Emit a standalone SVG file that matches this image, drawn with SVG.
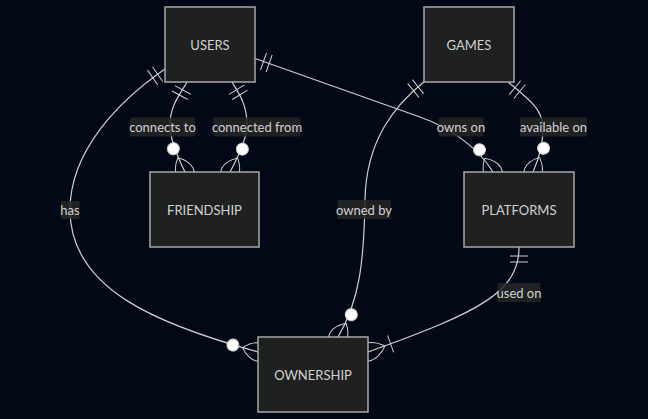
<svg xmlns="http://www.w3.org/2000/svg" width="648" height="419" viewBox="0 0 648 419">
<style>
.bg{fill:#030816}
.ent rect{fill:#1f2020;stroke:#a8a8a8;stroke-width:1.5}
.ent text{fill:#d2d2d2;font-family:Lato,"DejaVu Sans",sans-serif;font-size:13px;text-anchor:middle;dominant-baseline:central}
.edge{fill:none;stroke:#cfcfcf;stroke-width:1.2}
.mk{fill:none;stroke:#cfcfcf;stroke-width:1}
.mkc{fill:#ffffff;stroke:#cfcfcf;stroke-width:1}
.lbl rect{fill:#262626;opacity:0.85}
.lbl text{fill:#d2d2d2;font-family:Lato,"DejaVu Sans",sans-serif;font-size:13px;text-anchor:middle;dominant-baseline:central}
</style>
<defs>
<marker id="oneStart" markerUnits="userSpaceOnUse" refX="0" refY="9" markerWidth="18" markerHeight="18" orient="auto" overflow="visible">
<path class="mk" d="M9,0 L9,18 M15,0 L15,18"/>
</marker>
<marker id="zeroManyEnd" markerUnits="userSpaceOnUse" refX="39" refY="18" markerWidth="57" markerHeight="36" orient="auto" overflow="visible">
<circle class="mkc" cx="13" cy="18" r="6"/>
<path class="mk" d="M23,18 Q39,0 55,18 Q39,36 23,18"/>
</marker>
<marker id="oneManyEnd" markerUnits="userSpaceOnUse" refX="27" refY="18" markerWidth="45" markerHeight="36" orient="auto" overflow="visible">
<path class="mk" d="M3,9 L3,27 M9,18 Q27,0 45,18 Q27,36 9,18"/>
</marker>
</defs>
<rect class="bg" x="0" y="0" width="648" height="419"/>
<g id="connectors">
<path class="edge" marker-start="url(#oneStart)" marker-end="url(#zeroManyEnd)" d="M187,82 C180,95 170,105 170,125 C170,138 176,154 185,172"/>
<path class="edge" marker-start="url(#oneStart)" marker-end="url(#zeroManyEnd)" d="M232,82 C240,95 247,105 247,125 C247,138 239.5,154.4 230,172"/>
<path class="edge" marker-start="url(#oneStart)" marker-end="url(#zeroManyEnd)" d="M165,69 C120,100 70,150 70,210 C70,290 160,325 258,352"/>
<path class="edge" marker-start="url(#oneStart)" marker-end="url(#zeroManyEnd)" d="M255,58.5 L420,117 C445,126 476,144 493,172"/>
<path class="edge" marker-start="url(#oneStart)" marker-end="url(#zeroManyEnd)" d="M508,82 C530,100 543,110 543,128 C543,140 541,154 533,172"/>
<path class="edge" marker-start="url(#oneStart)" marker-end="url(#zeroManyEnd)" d="M425,81 C395,105 366,140 365,200 C364,260 360,300 338,337"/>
<path class="edge" marker-start="url(#oneStart)" marker-end="url(#oneManyEnd)" d="M519,247 C519,292 480,312 368,352"/>
<g class="lbl"><rect x="130" y="117.5" width="65" height="19"/><text x="162.5" y="127">connects to</text></g>
<g class="lbl"><rect x="213.5" y="117.5" width="87" height="19"/><text x="257" y="127">connected from</text></g>
<g class="lbl"><rect x="61" y="201" width="18.5" height="18"/><text x="70" y="210">has</text></g>
<g class="lbl"><rect x="438.5" y="117.5" width="45" height="19"/><text x="461" y="127">owns on</text></g>
<g class="lbl"><rect x="520" y="117.5" width="67" height="19"/><text x="553.5" y="127">available on</text></g>
<g class="lbl"><rect x="337.5" y="200" width="53.5" height="19"/><text x="364" y="209.5">owned by</text></g>
<g class="lbl"><rect x="497.5" y="283" width="43" height="19"/><text x="519" y="292.5">used on</text></g>
</g>
<g id="USERS" class="ent"><rect x="165" y="7" width="90" height="75"/><text x="210" y="44.5">USERS</text></g>
<g id="GAMES" class="ent"><rect x="424" y="7" width="90" height="75"/><text x="469" y="44.5">GAMES</text></g>
<g id="FRIENDSHIP" class="ent"><rect x="150" y="172" width="109" height="75"/><text x="204.5" y="209.5">FRIENDSHIP</text></g>
<g id="PLATFORMS" class="ent"><rect x="464" y="172" width="110" height="75"/><text x="519" y="209.5">PLATFORMS</text></g>
<g id="OWNERSHIP" class="ent"><rect x="258" y="337" width="110" height="75"/><text x="313" y="374.5">OWNERSHIP</text></g>
</svg>
